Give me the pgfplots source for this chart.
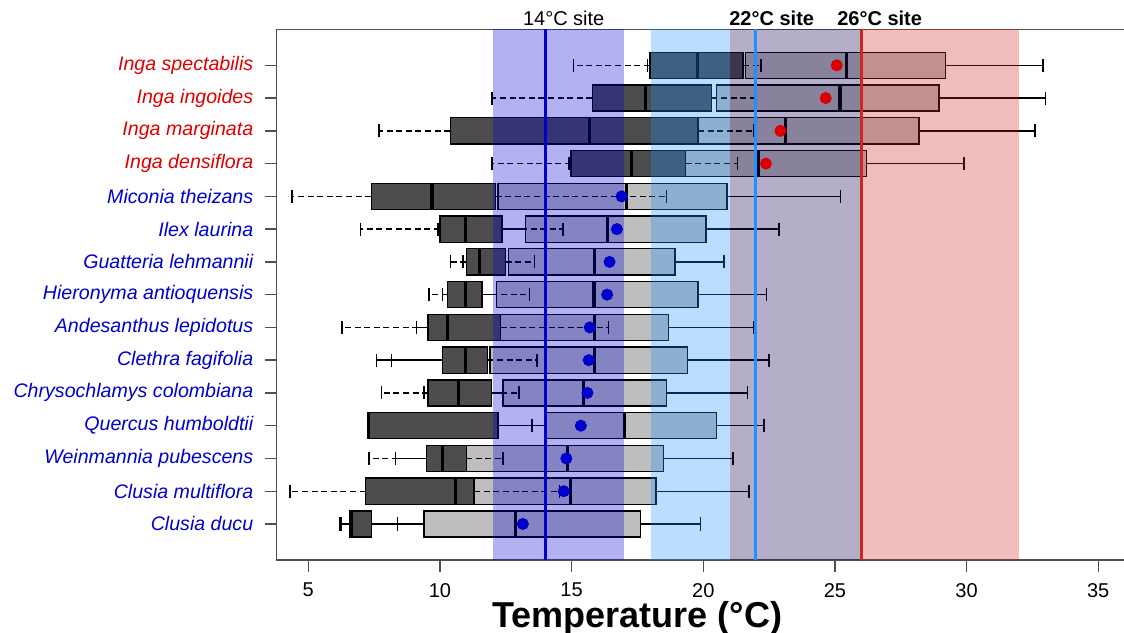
\documentclass[border=0pt]{standalone}
\usepackage{pgfplots}
\pgfplotsset{compat=1.18}
\usepgfplotslibrary{statistics}
\usepackage{fontspec}
\setmainfont{Liberation Sans}
\definecolor{dgrey}{RGB}{77,77,77}
\definecolor{lgrey}{RGB}{190,190,190}
\definecolor{bandA}{RGB}{0,0,205}
\definecolor{bandB}{RGB}{30,144,255}
\definecolor{bandC}{RGB}{30,10,90}
\definecolor{bandD}{RGB}{205,38,38}
\definecolor{lblred}{RGB}{220,0,0}
\definecolor{lblblue}{RGB}{0,0,205}
\definecolor{line14}{RGB}{0,0,205}
\definecolor{line22}{RGB}{30,144,255}
\definecolor{line26}{RGB}{205,38,38}
\definecolor{axgrey}{RGB}{80,80,80}

\pgfplotsset{
  bx/.style={boxplot/draw direction=x, boxplot/box extend=0.8, boxplot/whisker extend=0.4,
     boxplot/every median/.style={draw=black, line width=1.6pt},
     boxplot/every whisker/.style={draw=black, line width=0.7pt}},
  lbox/.style={bx, boxplot/every box/.style={draw=black, line width=0.7pt, fill=lgrey}},
  dbox/.style={bx, boxplot/every box/.style={draw=black, line width=0.7pt, fill=dgrey},
     boxplot/draw/whisker/.code 2 args={%
        \draw[black, line width=0.7pt, dash pattern=on 3pt off 1.8pt] (boxplot cs:##1) -- (boxplot cs:##2);
        \draw[black, line width=0.7pt] (boxplot whisker cs:##2,0) -- (boxplot whisker cs:##2,1);}},
}
% light (solid-whisker) box: position, lower whisker, Q1, median, Q3, upper whisker
\newcommand{\lbx}[6]{\addplot[lbox, boxplot prepared={draw position=#1, lower whisker=#2, lower quartile=#3, median=#4, upper quartile=#5, upper whisker=#6}] coordinates {};}
% dark (dashed-whisker) box
\newcommand{\dbx}[6]{\addplot[dbox, boxplot prepared={draw position=#1, lower whisker=#2, lower quartile=#3, median=#4, upper quartile=#5, upper whisker=#6}] coordinates {};}

\begin{document}
\begin{tikzpicture}
\path[use as bounding box] (0,0) rectangle (562pt,316pt);
\begin{axis}[
  at={(138.35pt,36pt)}, anchor=south west,
  scale only axis, width=426.55pt, height=265.35pt,
  xmin=3.8, xmax=36.2, ymin=-0.1, ymax=16.1,
  clip=false,
  axis line style={axgrey, line width=0.7pt},
  xtick={5,10,15,20,25,30,35}, xtick pos=bottom, ytick pos=left,
  tick align=outside, major tick length=6pt,
  tick style={axgrey, line width=0.7pt},
  /pgf/number format/assume math mode=true,
  xticklabel style={font=\fontsize{10}{12}\selectfont, yshift=-2pt},
  ytick={1,...,15},
  yticklabels={{\color{lblblue}Clusia ducu},{\color{lblblue}Clusia multiflora},{\color{lblblue}Weinmannia pubescens},{\color{lblblue}Quercus humboldtii},{\color{lblblue}Chrysochlamys colombiana},{\color{lblblue}Clethra fagifolia},{\color{lblblue}Andesanthus lepidotus},{\color{lblblue}Hieronyma antioquensis},{\color{lblblue}Guatteria lehmannii},{\color{lblblue}Ilex laurina},{\color{lblblue}Miconia theizans},{\color{lblred}Inga densiflora},{\color{lblred}Inga marginata},{\color{lblred}Inga ingoides},{\color{lblred}Inga spectabilis}},
  yticklabel style={font=\fontsize{9.8}{11}\selectfont\itshape, xshift=-2.2pt},
]
% boxes: light first, dark on top
\lbx{15}{17.88}{21.6}{25.44}{29.2}{32.9}   \dbx{15}{15.08}{17.97}{19.78}{21.51}{22.2}
\lbx{14}{16.5}{20.5}{25.19}{28.96}{33.0}   \dbx{14}{11.98}{15.79}{17.8}{20.31}{21.95}
\lbx{13}{17.0}{18.5}{23.11}{28.2}{32.6}    \dbx{13}{7.69}{10.39}{15.69}{19.8}{21.9}
\lbx{12}{14.9}{18.0}{22.1}{26.2}{29.9}     \dbx{12}{11.98}{14.98}{17.29}{19.33}{21.3}
\lbx{11}{10.0}{12.21}{17.09}{20.9}{25.21}  \dbx{11}{4.38}{7.39}{9.7}{12.11}{18.6}
\lbx{10}{9.92}{13.26}{16.36}{20.1}{22.88}  \dbx{10}{6.98}{10.0}{10.98}{12.35}{14.67}
\lbx{9}{10.88}{12.6}{15.88}{18.93}{20.79}  \dbx{9}{10.4}{11.0}{11.49}{12.49}{13.6}
\lbx{8}{10.1}{12.15}{15.85}{19.8}{22.4}    \dbx{8}{9.59}{10.29}{10.98}{11.59}{13.39}
\lbx{7}{9.11}{12.0}{15.88}{18.69}{21.9}    \dbx{7}{6.28}{9.54}{10.29}{12.3}{16.39}
\lbx{6}{7.6}{11.9}{15.88}{19.4}{22.5}      \dbx{6}{8.17}{10.1}{10.98}{11.8}{13.69}
\lbx{5}{9.4}{12.4}{15.44}{18.6}{21.69}     \dbx{5}{7.79}{9.55}{10.69}{11.96}{13.0}
\lbx{4}{10.0}{14.05}{17.0}{20.5}{22.3}     \dbx{4}{7.25}{7.25}{7.3}{12.2}{13.5}
\lbx{3}{8.32}{10.5}{14.84}{18.5}{21.13}    \dbx{3}{7.3}{9.5}{10.1}{11.0}{12.4}
\lbx{2}{8.0}{10.8}{14.96}{18.2}{21.73}     \dbx{2}{4.3}{7.18}{10.59}{11.3}{14.55}
\lbx{1}{6.26}{9.39}{12.88}{17.62}{19.9}    \dbx{1}{6.2}{6.58}{6.65}{7.4}{8.39}
% site bands
\addplot[draw=none, fill=bandA, fill opacity=0.3] coordinates {(12,-0.1) (12,16.1) (17,16.1) (17,-0.1)} -- cycle;
\addplot[draw=none, fill=bandB, fill opacity=0.3] coordinates {(18,-0.1) (18,16.1) (21,16.1) (21,-0.1)} -- cycle;
\addplot[draw=none, fill=bandC, fill opacity=0.33] coordinates {(21,-0.1) (21,16.1) (26,16.1) (26,-0.1)} -- cycle;
\addplot[draw=none, fill=bandD, fill opacity=0.3] coordinates {(26,-0.1) (26,16.1) (32,16.1) (32,-0.1)} -- cycle;
% site temperatures
\addplot[line14, line width=1.5pt] coordinates {(14,-0.1) (14,16.1)};
\addplot[line22, line width=1.5pt] coordinates {(22,-0.1) (22,16.1)};
\addplot[line26, line width=1.5pt] coordinates {(26,-0.1) (26,16.1)};
% means
\addplot[only marks, mark=*, mark size=2.8pt, color=lblred] coordinates {(25.07,15) (24.65,14) (22.93,13) (22.38,12)};
\addplot[only marks, mark=*, mark size=2.8pt, color=lblblue] coordinates {(16.9,11) (16.72,10) (16.44,9) (16.35,8) (15.69,7) (15.65,6) (15.6,5) (15.35,4) (14.8,3) (14.7,2) (13.15,1)};
% labels
\node[anchor=base, yshift=1.65pt, font=\fontsize{10}{12}\selectfont] at (axis cs:14.7,16.1) {14°C site};
\node[anchor=base, yshift=1.65pt, font=\fontsize{10}{12}\selectfont\bfseries] at (axis cs:22.6,16.1) {22°C site};
\node[anchor=base, yshift=1.65pt, font=\fontsize{10}{12}\selectfont\bfseries] at (axis cs:26.7,16.1) {26°C site};
\node[anchor=base, yshift=-33.5pt, font=\fontsize{18}{21}\selectfont\bfseries] at (axis cs:17.5,-0.1) {Temperature (°C)};
\end{axis}
\end{tikzpicture}
\end{document}
